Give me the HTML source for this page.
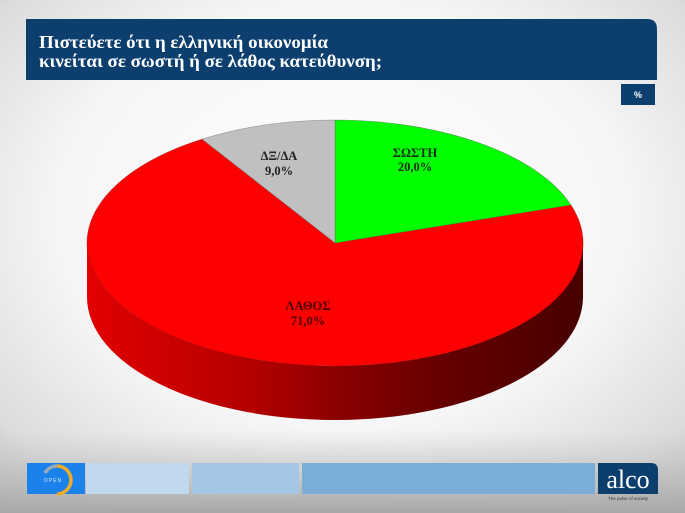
<!DOCTYPE html>
<html><head><meta charset="utf-8"><style>
html,body{margin:0;padding:0;width:685px;height:513px;overflow:hidden;background:#fff}
svg{display:block}
</style></head><body>
<svg width="685" height="513" viewBox="0 0 685 513" xmlns="http://www.w3.org/2000/svg">
<defs>
<radialGradient id="bg" cx="0.5" cy="0.42" r="0.75">
<stop offset="0" stop-color="#ffffff"/>
<stop offset="0.55" stop-color="#f6f6f6"/>
<stop offset="0.85" stop-color="#dcdcdc"/>
<stop offset="1" stop-color="#bdbdbd"/>
</radialGradient>
<linearGradient id="bot" x1="0" y1="0" x2="0" y2="1">
<stop offset="0" stop-color="#d0d0d0" stop-opacity="0"/>
<stop offset="0.4" stop-color="#c4c4c4" stop-opacity="0.6"/>
<stop offset="1" stop-color="#a8a8a8" stop-opacity="1"/>
</linearGradient>
<linearGradient id="side" x1="87" y1="0" x2="583" y2="0" gradientUnits="userSpaceOnUse">
<stop offset="0" stop-color="#e20000"/>
<stop offset="0.33" stop-color="#b40000"/>
<stop offset="0.5" stop-color="#8c0000"/>
<stop offset="0.72" stop-color="#640000"/>
<stop offset="1" stop-color="#480000"/>
</linearGradient>
</defs>
<rect x="0" y="0" width="685" height="513" fill="url(#bg)"/>
<rect x="0" y="430" width="685" height="83" fill="url(#bot)"/>

<!-- title -->
<path d="M26,19 H647 Q657,19 657,29 V80 H26 Z" fill="#0d3f6e"/>
<text x="39" y="48" font-family="Liberation Serif, serif" font-weight="bold" font-size="18" fill="#fff" textLength="289" lengthAdjust="spacingAndGlyphs">Πιστεύετε ότι η ελληνική οικονομία</text>
<text x="39" y="67" font-family="Liberation Serif, serif" font-weight="bold" font-size="18" fill="#fff" textLength="343" lengthAdjust="spacingAndGlyphs">κινείται σε σωστή ή σε λάθος κατεύθυνση;</text>

<rect x="621" y="84" width="34" height="21" fill="#0d3f6e"/>
<text x="638" y="98" text-anchor="middle" font-family="Liberation Sans, sans-serif" font-weight="bold" font-size="9" fill="#fff">%</text>

<!-- pie side -->
<path d="M583,243 A248,123 0 0 1 87,243 L87,297 A248,123 0 0 0 583,297 Z" fill="url(#side)"/>
<!-- top slices -->
<path d="M335,243 L570.9,205 A248,123 0 1 1 202.1,139.2 Z" fill="#ff0000" stroke="#8a0000" stroke-width="0.6" stroke-opacity="0.6"/>
<path d="M335,243 L335,120 A248,123 0 0 1 570.9,205 Z" fill="#00ff00" stroke="#555" stroke-width="0.6" stroke-opacity="0.6"/>
<path d="M335,243 L202.1,139.2 A248,123 0 0 1 335,120 Z" fill="#c0c0c0" stroke="#666" stroke-width="0.6" stroke-opacity="0.6"/>

<g font-family="Liberation Serif, serif" font-weight="bold" font-size="12.5" text-anchor="middle">
<text x="415" y="157" fill="#1a2a1a">ΣΩΣΤΗ</text>
<text x="415" y="171" fill="#1a2a1a">20,0%</text>
<text x="279" y="160" fill="#222">ΔΞ/ΔΑ</text>
<text x="279" y="175" fill="#222">9,0%</text>
<text x="308" y="310" fill="#4a0000">ΛΑΘΟΣ</text>
<text x="308" y="325" fill="#4a0000">71,0%</text>
</g>

<!-- footer -->
<rect x="27" y="463" width="58" height="31" fill="#1a82ea"/>
<path d="M57,466 A14,14 0 0 1 57,494" fill="none" stroke="#f2ac2a" stroke-width="3.5"/>
<path d="M57,466 A14,14 0 0 0 45,473" fill="none" stroke="#9aa8b8" stroke-width="3.5"/>
<text x="53" y="482" text-anchor="middle" font-family="Liberation Sans, sans-serif" font-size="5" fill="#dfe8f5" letter-spacing="1">OPEN</text>
<rect x="86" y="463" width="103" height="31" fill="#c2d8ec"/>
<rect x="192" y="463" width="107" height="31" fill="#a5c7e5"/>
<rect x="302" y="463" width="293" height="31" fill="#7aaed8"/>
<path d="M598,463 H651 Q658,463 658,470 V494 H598 Z" fill="#0d3f6e"/>
<text x="628" y="488" text-anchor="middle" font-family="Liberation Serif, serif" font-size="26" fill="#fff">alco</text>
<text x="628" y="500" text-anchor="middle" font-family="Liberation Sans, sans-serif" font-size="4.5" fill="#333">The pulse of society</text>
</svg>
</body></html>
